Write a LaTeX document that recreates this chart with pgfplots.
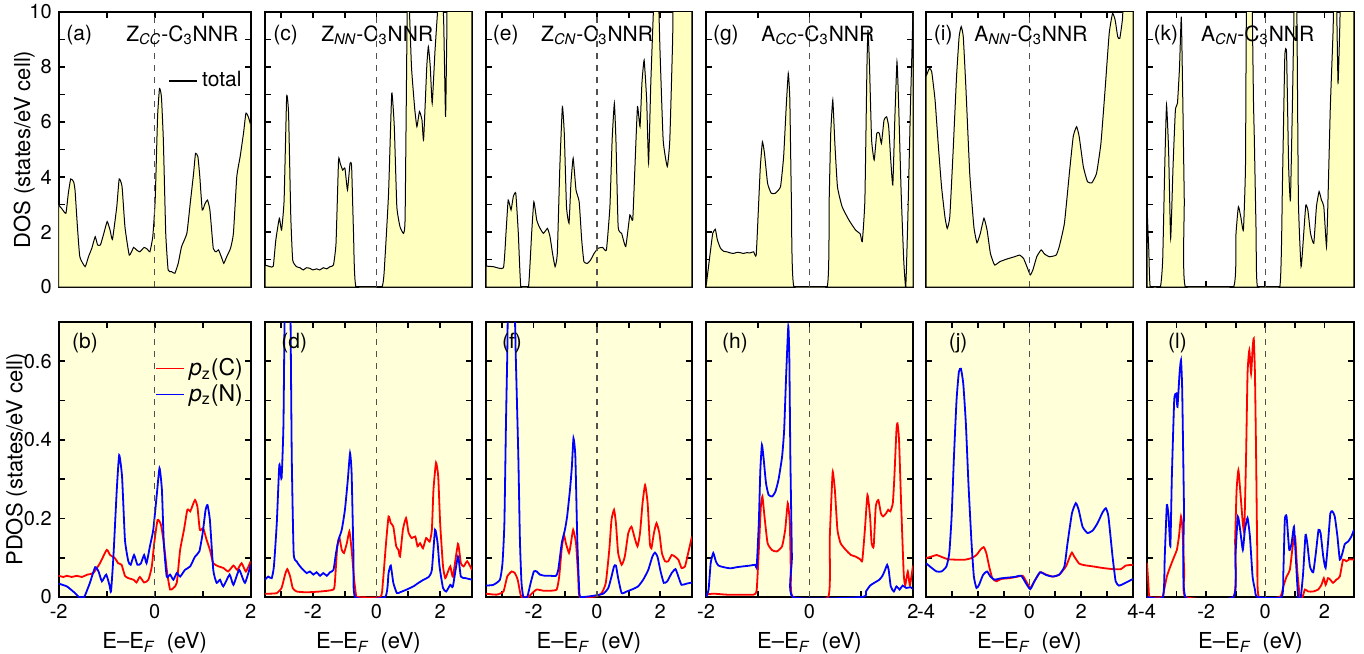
\documentclass[border=0pt]{standalone}
\usepackage{pgfplots}
\pgfplotsset{compat=1.18}
\usepackage{fontspec}
\setmainfont{TeX Gyre Heros}
\definecolor{dosfill}{RGB}{255,255,192}
\definecolor{pdosbg}{RGB}{255,255,218}
\definecolor{zline}{RGB}{80,80,80}
\pgfplotsset{
  panel/.style={scale only axis, anchor=north west, height=137.5pt,
    axis line style={line width=0.9pt},
    every tick/.style={black, line width=0.9pt},
    major tick length=3pt, minor tick length=3pt, tick align=inside,
    xtick={-4,-2,...,4}, minor xtick={-5,-3,...,5},
    /pgf/number format/assume math mode=true,
    tick label style={font=\fontsize{10}{11}\selectfont},
    label style={font=\fontsize{11}{13}\selectfont},
  },
  toprow/.style={panel, ymin=0, ymax=10, ytick={0,2,...,10}, minor ytick={1,3,...,9}, xticklabel=\empty},
  botrow/.style={panel, ymin=0, ymax=0.7, ytick={0,0.2,0.4,0.6}, minor ytick={0.1,0.3,0.5,0.7},
    axis background/.style={fill=pdosbg},
    xlabel={E--E\textsubscript{\itshape F}\ \ (eV)}},
  noy/.style={yticklabel=\empty},
  dos/.style={draw=black, line width=0.5pt, fill=dosfill, smooth, tension=0.25},
  pc/.style={red, line width=0.9pt, smooth, tension=0.3},
  pn/.style={blue, line width=0.9pt, smooth, tension=0.3},
  zl/.style={zline, dashed, line width=0.6pt, forget plot},
}
\tikzset{lab/.style={font=\fontsize{10.5}{12}\selectfont, anchor=west, inner sep=0pt}}
\newcommand{\tit}[2]{#1\textsubscript{\itshape #2}-C\textsubscript{3}NNR}
\begin{document}
\begin{tikzpicture}
\useasboundingbox (0pt,0pt) rectangle (682pt,-326.5pt);
% ---------------- (a)
\begin{axis}[toprow, at={(29.35pt,-6pt)}, width=96pt, xmin=-2, xmax=2,
  ylabel={DOS (states/eV cell)}, ylabel style={at={(axis description cs:-0.18,0.5)}, anchor=center},
  legend image code/.code={\draw[#1] (0pt,0pt) -- (14pt,0pt);},
  legend style={at={(axis description cs:0.538,0.75)}, anchor=west, draw=none, fill=none, font=\fontsize{10.5}{12}\selectfont}]
\addplot[dos, forget plot] coordinates {(-2,2.98)(-1.94,2.86)(-1.85,2.68)(-1.80,3.4)(-1.75,3.93)(-1.69,3.83)(-1.66,3.53)(-1.61,2.19)(-1.56,1.10)(-1.45,0.74)(-1.38,1.10)(-1.31,1.41)(-1.24,1.83)(-1.19,1.53)(-1.13,1.53)(-1.06,1.95)(-0.99,2.38)(-0.93,2.07)(-0.88,1.73)(-0.79,2.92)(-0.74,3.93)(-0.68,3.65)(-0.62,2.19)(-0.53,1.16)(-0.44,1.44)(-0.38,1.35)(-0.31,1.28)(-0.22,1.44)(-0.15,1.37)(-0.10,1.28)(-0.04,1.83)(0.01,3.16)(0.06,6.19)(0.10,7.22)(0.14,6.92)(0.18,5.35)(0.23,1.95)(0.28,0.62)(0.35,0.56)(0.42,0.50)(0.49,0.86)(0.56,1.47)(0.67,1.95)(0.74,3.04)(0.81,4.13)(0.85,4.86)(0.90,4.74)(0.94,4.01)(0.99,2.80)(1.05,3.04)(1.10,3.16)(1.15,2.80)(1.22,1.41)(1.28,1.28)(1.33,1.35)(1.40,1.04)(1.44,0.86)(1.50,1.10)(1.58,1.41)(1.64,1.95)(1.71,4.01)(1.78,4.74)(1.85,5.59)(1.90,6.32)(1.95,6.19)(2.0,5.89)} \closedcycle;
\addlegendimage{black, line width=0.9pt}
\addlegendentry{total}
\addplot[zl] coordinates {(0,0)(0,10)};
\node[lab] at (axis description cs:0.038,0.916) {(a)};
\node[lab] at (axis description cs:0.35,0.916) {\tit{Z}{CC}};
\end{axis}
% ---------------- (c)
\begin{axis}[toprow, noy, at={(132.5pt,-6pt)}, width=103.5pt, xmin=-3.5, xmax=3]
\addplot[dos] coordinates {(-3.5,0.80)(-3.34,0.74)(-3.24,0.76)(-3.16,1.71)(-3.05,2.50)(-2.98,2.07)(-2.90,3.16)(-2.82,6.92)(-2.76,6.32)(-2.69,2.56)(-2.63,0.98)(-2.51,0.74)(-2.40,0.70)(-2.30,0.62)(-2.20,0.70)(-2.09,0.68)(-2.0,0.62)(-1.88,0.66)(-1.78,0.62)(-1.67,0.70)(-1.56,0.66)(-1.46,0.74)(-1.35,0.80)(-1.27,1.59)(-1.19,4.62)(-1.14,4.50)(-1.06,4.25)(-0.99,4.32)(-0.91,3.53)(-0.83,4.50)(-0.78,4.38)(-0.72,1.95)(-0.64,0)(0.17,0)(0.27,1.10)(0.38,3.41)(0.48,7.04)(0.56,5.83)(0.64,2.92)(0.74,2.19)(0.85,1.95)(0.90,2.56)(0.97,10.5)(1.02,10.5)(1.10,8.0)(1.20,6.5)(1.27,5.83)(1.35,6.38)(1.43,6.07)(1.48,5.35)(1.58,8.01)(1.63,8.74)(1.69,8.01)(1.75,6.68)(1.84,8.62)(1.95,10.5)(2.05,11)(2.11,9.7)(2.17,6.19)(2.21,9.2)(2.26,11)(3.0,11)} \closedcycle;
\addplot[zl] coordinates {(0,0)(0,10)};
\node[lab] at (axis description cs:0.039,0.916) {(c)};
\node[lab] at (axis description cs:0.27,0.916) {\tit{Z}{NN}};
\end{axis}
% ---------------- (e)
\begin{axis}[toprow, noy, at={(243pt,-6pt)}, width=103pt, xmin=-3.5, xmax=3]
\addplot[dos] coordinates {(-3.5,0.76)(-3.27,0.74)(-2.95,0.70)(-2.87,1.95)(-2.80,3.16)(-2.71,2.80)(-2.64,3.28)(-2.56,3.41)(-2.48,1.95)(-2.40,0)(-2.16,0)(-2.06,1.95)(-1.99,3.10)(-1.90,2.44)(-1.82,2.19)(-1.69,1.95)(-1.56,2.13)(-1.48,1.83)(-1.40,1.22)(-1.32,0.74)(-1.25,1.22)(-1.17,4.38)(-1.09,6.56)(-1.03,5.59)(-0.96,2.92)(-0.88,2.32)(-0.82,3.77)(-0.75,4.68)(-0.66,3.53)(-0.56,3.10)(-0.48,1.71)(-0.41,0.92)(-0.30,0.86)(-0.20,0.98)(-0.09,1.22)(0.04,1.41)(0.18,1.44)(0.30,1.35)(0.41,2.92)(0.48,5.35)(0.55,6.68)(0.60,5.35)(0.67,2.19)(0.78,1.95)(0.91,1.47)(1.04,2.62)(1.13,2.44)(1.20,4.38)(1.28,6.56)(1.36,5.83)(1.42,7.41)(1.49,8.25)(1.57,6.80)(1.63,4.50)(1.70,7.41)(1.78,9.95)(1.83,11)(1.93,11)(1.99,8.62)(2.09,5.35)(2.22,4.38)(2.30,5.35)(2.39,9.0)(2.43,11)(3.0,11)} \closedcycle;
\addplot[zl] coordinates {(0,0)(0,10)};
\node[lab] at (axis description cs:0.032,0.916) {(e)};
\node[lab] at (axis description cs:0.266,0.916) {\tit{Z}{CN}};
\end{axis}
% ---------------- (g)
\begin{axis}[toprow, noy, at={(353pt,-6pt)}, width=103.5pt, xmin=-2, xmax=2]
\addplot[dos] coordinates {(-2,0)(-1.92,1.22)(-1.87,1.95)(-1.82,2.10)(-1.78,1.71)(-1.72,1.41)(-1.66,1.30)(-1.60,1.28)(-1.53,1.24)(-1.47,1.22)(-1.40,1.26)(-1.34,1.25)(-1.28,1.22)(-1.21,1.25)(-1.15,1.24)(-1.08,1.28)(-1.03,1.16)(-0.98,3.16)(-0.95,4.38)(-0.91,5.28)(-0.87,4.86)(-0.81,3.77)(-0.74,3.41)(-0.66,3.41)(-0.56,3.65)(-0.50,4.74)(-0.45,6.56)(-0.41,7.77)(-0.38,6.80)(-0.35,3.16)(-0.30,0)(0.34,0)(0.38,3.16)(0.41,5.59)(0.45,6.80)(0.49,5.22)(0.54,3.65)(0.63,2.92)(0.76,2.44)(0.89,2.07)(0.98,1.93)(1.02,1.65)(1.07,3.16)(1.11,8.01)(1.13,9.35)(1.16,8.01)(1.20,5.35)(1.25,4.62)(1.30,5.59)(1.35,5.59)(1.39,5.22)(1.44,6.07)(1.49,6.19)(1.53,5.83)(1.57,4.62)(1.61,3.71)(1.65,6.19)(1.69,8.19)(1.72,6.80)(1.77,3.5)(1.82,1.0)(1.86,0)(1.90,2.5)(1.95,6.5)(2.0,10)} \closedcycle;
\addplot[zl] coordinates {(0,0)(0,10)};
\node[lab] at (axis description cs:0.032,0.916) {(g)};
\node[lab] at (axis description cs:0.265,0.916) {\tit{A}{CC}};
\end{axis}
% ---------------- (i)
\begin{axis}[toprow, noy, at={(463pt,-6pt)}, width=103.5pt, xmin=-4, xmax=4]
\addplot[dos] coordinates {(-4,7.65)(-3.87,7.95)(-3.78,7.83)(-3.65,6.80)(-3.53,5.22)(-3.40,3.65)(-3.27,2.56)(-3.18,2.13)(-3.08,2.56)(-2.95,4.98)(-2.82,7.65)(-2.72,9.10)(-2.64,9.47)(-2.56,9.10)(-2.46,7.28)(-2.31,4.13)(-2.15,2.19)(-2.03,1.61)(-1.90,1.95)(-1.76,2.50)(-1.64,2.07)(-1.51,1.22)(-1.35,0.80)(-1.15,0.92)(-0.90,1.01)(-0.58,1.10)(-0.38,1.16)(-0.23,1.04)(-0.10,0.74)(0.03,0.44)(0.13,0.62)(0.28,1.10)(0.45,1.35)(0.58,1.20)(0.77,1.10)(1.03,1.16)(1.15,1.47)(1.35,2.32)(1.54,4.13)(1.69,5.47)(1.82,5.83)(1.92,5.47)(2.08,4.38)(2.24,3.83)(2.41,3.79)(2.59,4.13)(2.76,5.22)(2.92,7.16)(3.08,9.22)(3.21,9.95)(3.31,9.71)(3.41,9.10)(3.49,9.04)(3.59,9.71)(3.65,10.5)(4.0,11)} \closedcycle;
\addplot[zl] coordinates {(0,0)(0,10)};
\node[lab] at (axis description cs:0.036,0.916) {(i)};
\node[lab] at (axis description cs:0.232,0.916) {\tit{A}{NN}};
\end{axis}
% ---------------- (k)
\begin{axis}[toprow, noy, at={(573.5pt,-6pt)}, width=103.5pt, xmin=-4, xmax=3]
\addplot[dos] coordinates {(-4,2.92)(-3.94,1.35)(-3.89,0)(-3.55,0)(-3.47,0.98)(-3.40,4.38)(-3.34,6.62)(-3.27,4.98)(-3.20,1.77)(-3.12,4.38)(-3.04,6.44)(-2.97,6.68)(-2.90,8.01)(-2.84,9.83)(-2.79,6.80)(-2.74,3.16)(-2.70,0)(-1.08,0)(-0.99,1.95)(-0.91,2.92)(-0.83,2.56)(-0.74,2.07)(-0.67,4.38)(-0.63,11)(-0.46,11)(-0.40,6.80)(-0.37,5.35)(-0.31,1.95)(-0.26,0)(0.49,0)(0.58,3.77)(0.66,8.38)(0.72,8.50)(0.79,4.38)(0.85,3.16)(0.92,6.80)(0.99,11)(1.06,11)(1.12,3.16)(1.21,0.74)(1.30,1.95)(1.37,2.98)(1.44,2.80)(1.53,1.95)(1.64,1.59)(1.73,2.92)(1.82,3.47)(1.90,3.16)(1.98,2.92)(2.07,1.47)(2.12,3.16)(2.20,6.56)(2.29,9.22)(2.33,11)(2.40,11)(2.46,7.41)(2.52,9.47)(2.57,11)(3.0,11)} \closedcycle;
\addplot[zl] coordinates {(0,0)(0,10)};
\node[lab] at (axis description cs:0.03,0.916) {(k)};
\node[lab] at (axis description cs:0.26,0.916) {\tit{A}{CN}};
\end{axis}
% ================= bottom row
% ---------------- (b)
\begin{axis}[botrow, at={(29.35pt,-161pt)}, width=96pt, xmin=-2, xmax=2,
  ylabel={PDOS (states/eV cell)}, ylabel style={at={(axis description cs:-0.22,0.5)}, anchor=center},
  legend image code/.code={\draw[#1] (0pt,0pt) -- (14pt,0pt);},
  legend cell align=left,
  legend style={at={(axis description cs:0.47,0.784)}, anchor=west, draw=none, fill=none, font=\fontsize{11.5}{13}\selectfont, row sep=-1pt}]
\addplot[pc, forget plot] coordinates {(-2,0.054)(-1.90,0.051)(-1.83,0.054)(-1.73,0.051)(-1.62,0.054)(-1.52,0.051)(-1.40,0.057)(-1.28,0.061)(-1.14,0.086)(-1.0,0.120)(-0.93,0.107)(-0.83,0.099)(-0.76,0.086)(-0.69,0.082)(-0.62,0.054)(-0.55,0.048)(-0.44,0.044)(-0.38,0.037)(-0.31,0.051)(-0.22,0.037)(-0.13,0.044)(-0.06,0.078)(-0.01,0.137)(0.06,0.196)(0.13,0.184)(0.19,0.137)(0.26,0.061)(0.32,0.019)(0.39,0.023)(0.46,0.036)(0.53,0.120)(0.61,0.171)(0.68,0.222)(0.74,0.218)(0.78,0.230)(0.84,0.247)(0.89,0.230)(0.94,0.171)(1.01,0.175)(1.08,0.146)(1.15,0.120)(1.22,0.086)(1.33,0.078)(1.43,0.074)(1.53,0.065)(1.64,0.080)(1.72,0.069)(1.81,0.086)(1.90,0.065)(2.0,0.091)};
\addplot[pn, forget plot] coordinates {(-2,0.034)(-1.83,0.027)(-1.66,0.010)(-1.58,0)(-1.47,0)(-1.40,0.02)(-1.35,0.036)(-1.24,0.076)(-1.17,0.065)(-1.10,0.040)(-1.01,0.057)(-0.94,0.029)(-0.91,0.014)(-0.86,0.103)(-0.79,0.273)(-0.74,0.361)(-0.68,0.306)(-0.62,0.146)(-0.55,0.091)(-0.50,0.082)(-0.43,0.107)(-0.36,0.082)(-0.29,0.085)(-0.22,0.107)(-0.17,0.086)(-0.10,0.129)(-0.03,0.171)(0.04,0.256)(0.10,0.328)(0.15,0.273)(0.19,0.137)(0.25,0.052)(0.32,0.057)(0.39,0.044)(0.46,0.061)(0.53,0.052)(0.63,0.069)(0.74,0.078)(0.84,0.103)(0.93,0.116)(1.0,0.163)(1.06,0.222)(1.10,0.234)(1.15,0.196)(1.22,0.069)(1.29,0.036)(1.36,0.044)(1.43,0.027)(1.56,0.057)(1.64,0.031)(1.76,0.069)(1.88,0.036)(2.0,0.082)};
\addlegendimage{red, line width=0.9pt}
\addlegendentry{\textit{p}\textsubscript{z}(C)}
\addlegendimage{blue, line width=0.9pt}
\addlegendentry{\textit{p}\textsubscript{z}(N)}
\addplot[zl] coordinates {(0,0)(0,0.7)};
\node[lab] at (axis description cs:0.068,0.924) {(b)};
\end{axis}
% ---------------- (d)
\begin{axis}[botrow, noy, at={(132.5pt,-161pt)}, width=103.5pt, xmin=-3.5, xmax=3]
\addplot[pc] coordinates {(-3.5,0.0085)(-3.34,0.0085)(-3.13,0.010)(-2.98,0.023)(-2.87,0.057)(-2.80,0.071)(-2.71,0.052)(-2.63,0.023)(-2.51,0.014)(-2.19,0.012)(-1.77,0.014)(-1.35,0.019)(-1.30,0.044)(-1.23,0.129)(-1.16,0.150)(-1.09,0.120)(-1.02,0.112)(-0.93,0.137)(-0.85,0.167)(-0.78,0.120)(-0.70,0.044)(-0.64,0.003)(-0.62,0)(0.12,0)(0.20,0.036)(0.30,0.137)(0.38,0.205)(0.45,0.188)(0.53,0.179)(0.62,0.129)(0.69,0.120)(0.74,0.103)(0.83,0.171)(0.93,0.201)(1.01,0.163)(1.11,0.150)(1.22,0.154)(1.29,0.129)(1.37,0.137)(1.46,0.124)(1.56,0.150)(1.67,0.141)(1.74,0.171)(1.79,0.273)(1.87,0.342)(1.94,0.306)(2.0,0.188)(2.09,0.078)(2.16,0.048)(2.23,0.061)(2.32,0.078)(2.40,0.052)(2.56,0.135)(2.65,0.086)(2.74,0.078)(2.85,0.091)(3.0,0.069)};
\addplot[pn] coordinates {(-3.5,0.044)(-3.40,0.052)(-3.29,0.048)(-3.22,0.078)(-3.13,0.188)(-3.05,0.336)(-2.98,0.302)(-2.92,0.442)(-2.87,0.8)(-2.77,0.8)(-2.71,0.8)(-2.66,0.357)(-2.60,0.112)(-2.51,0.091)(-2.40,0.078)(-2.30,0.069)(-2.19,0.061)(-2.09,0.065)(-1.98,0.057)(-1.88,0.063)(-1.77,0.054)(-1.67,0.061)(-1.56,0.054)(-1.46,0.063)(-1.35,0.069)(-1.27,0.112)(-1.19,0.146)(-1.09,0.171)(-0.99,0.222)(-0.90,0.298)(-0.83,0.366)(-0.78,0.315)(-0.72,0.103)(-0.67,0)(0.27,0)(0.38,0.061)(0.45,0.080)(0.53,0.036)(0.64,0.010)(0.74,0.012)(0.95,0.019)(1.16,0.027)(1.32,0.036)(1.48,0.044)(1.64,0.051)(1.74,0.069)(1.84,0.171)(1.92,0.137)(1.98,0.078)(2.09,0.023)(2.19,0.014)(2.32,0.031)(2.40,0.027)(2.56,0.103)(2.65,0.052)(2.80,0.048)(3.0,0.044)};
\addplot[zl] coordinates {(0,0)(0,0.7)};
\node[lab] at (axis description cs:0.077,0.924) {(d)};
\end{axis}
% ---------------- (f)
\begin{axis}[botrow, noy, at={(243pt,-161pt)}, width=103pt, xmin=-3.5, xmax=3]
\addplot[pc] coordinates {(-3.5,0.0085)(-3.17,0.006)(-2.95,0.014)(-2.83,0.052)(-2.69,0.065)(-2.59,0.061)(-2.50,0.044)(-2.43,0.014)(-2.38,0)(-2.17,0)(-2.06,0.0085)(-1.90,0.019)(-1.69,0.016)(-1.48,0.016)(-1.27,0.019)(-1.19,0.052)(-1.11,0.124)(-1.04,0.158)(-0.98,0.137)(-0.88,0.112)(-0.82,0.137)(-0.75,0.171)(-0.66,0.137)(-0.59,0.052)(-0.54,0)(-0.01,0.002)(0.15,0.010)(0.28,0.036)(0.39,0.120)(0.46,0.196)(0.54,0.222)(0.60,0.188)(0.67,0.112)(0.78,0.082)(0.88,0.103)(0.99,0.163)(1.09,0.179)(1.18,0.154)(1.28,0.129)(1.36,0.163)(1.44,0.239)(1.52,0.285)(1.60,0.239)(1.67,0.137)(1.72,0.124)(1.80,0.163)(1.88,0.188)(1.97,0.163)(2.05,0.112)(2.15,0.091)(2.25,0.091)(2.36,0.107)(2.46,0.103)(2.57,0.095)(2.67,0.074)(2.78,0.078)(2.88,0.112)(3.0,0.154)};
\addplot[pn] coordinates {(-3.5,0.029)(-3.27,0.031)(-3.06,0.044)(-2.98,0.086)(-2.92,0.188)(-2.87,0.442)(-2.83,0.611)(-2.79,0.8)(-2.62,0.8)(-2.56,0.611)(-2.48,0.357)(-2.43,0.146)(-2.38,0.036)(-2.32,0)(-2.20,0)(-2.09,0.036)(-1.99,0.065)(-1.90,0.065)(-1.80,0.057)(-1.64,0.054)(-1.48,0.054)(-1.29,0.054)(-1.22,0.069)(-1.11,0.137)(-1.01,0.171)(-0.94,0.205)(-0.85,0.273)(-0.79,0.332)(-0.74,0.404)(-0.68,0.357)(-0.62,0.146)(-0.56,0.019)(-0.52,0)(-0.12,0.003)(0.20,0.0085)(0.36,0.023)(0.46,0.052)(0.54,0.078)(0.60,0.080)(0.67,0.048)(0.78,0.010)(0.94,0.014)(1.13,0.020)(1.30,0.027)(1.46,0.044)(1.62,0.069)(1.75,0.103)(1.83,0.113)(1.91,0.103)(2.01,0.065)(2.11,0.036)(2.22,0.040)(2.36,0.061)(2.48,0.071)(2.57,0.052)(2.67,0.031)(2.83,0.034)(3.0,0.037)};
\addplot[zl] coordinates {(0,0)(0,0.7)};
\node[lab] at (axis description cs:0.076,0.924) {(f)};
\end{axis}
% ---------------- (h)
\begin{axis}[botrow, noy, at={(353pt,-161pt)}, width=103.5pt, xmin=-2, xmax=2]
\addplot[pc] coordinates {(-2,0.006)(-1.86,0.0085)(-1.60,0.006)(-1.34,0.006)(-1.08,0.006)(-1.02,0.019)(-0.97,0.146)(-0.94,0.230)(-0.91,0.256)(-0.87,0.205)(-0.81,0.137)(-0.72,0.119)(-0.63,0.116)(-0.53,0.129)(-0.47,0.171)(-0.42,0.239)(-0.38,0.188)(-0.36,0.061)(-0.32,0)(0.36,0)(0.39,0.146)(0.43,0.273)(0.45,0.319)(0.49,0.273)(0.54,0.171)(0.60,0.137)(0.70,0.120)(0.80,0.107)(0.89,0.103)(0.98,0.096)(1.02,0.093)(1.07,0.171)(1.12,0.260)(1.17,0.205)(1.20,0.137)(1.24,0.129)(1.28,0.230)(1.33,0.247)(1.38,0.213)(1.42,0.205)(1.48,0.213)(1.52,0.222)(1.56,0.218)(1.61,0.239)(1.64,0.306)(1.68,0.425)(1.70,0.442)(1.73,0.400)(1.77,0.24)(1.82,0.06)(1.85,0.03)(1.90,0.065)(1.94,0.03)(2.0,0.08)};
\addplot[pn] coordinates {(-2,0)(-1.95,0.019)(-1.91,0.086)(-1.86,0.112)(-1.81,0.091)(-1.76,0.080)(-1.66,0.076)(-1.53,0.073)(-1.40,0.076)(-1.28,0.078)(-1.15,0.080)(-1.05,0.082)(-1.02,0.078)(-0.98,0.188)(-0.95,0.323)(-0.92,0.387)(-0.89,0.357)(-0.84,0.289)(-0.79,0.260)(-0.72,0.256)(-0.66,0.268)(-0.60,0.298)(-0.53,0.357)(-0.49,0.425)(-0.45,0.569)(-0.41,0.689)(-0.39,0.611)(-0.37,0.357)(-0.34,0.103)(-0.32,0)(1.02,0)(1.09,0.014)(1.17,0.029)(1.25,0.036)(1.35,0.044)(1.41,0.054)(1.46,0.069)(1.50,0.082)(1.53,0.069)(1.57,0.027)(1.63,0.014)(1.68,0.027)(1.74,0.019)(1.80,0.029)(1.87,0.023)(1.95,0.025)(2.0,0.02)};
\addplot[zl] coordinates {(0,0)(0,0.7)};
\node[lab] at (axis description cs:0.076,0.924) {(h)};
\end{axis}
% ---------------- (j)
\begin{axis}[botrow, noy, at={(463pt,-161pt)}, width=103.5pt, xmin=-4, xmax=4]
\addplot[pc] coordinates {(-4,0.099)(-3.78,0.103)(-3.59,0.107)(-3.40,0.102)(-3.14,0.096)(-2.82,0.095)(-2.50,0.095)(-2.24,0.099)(-2.05,0.107)(-1.90,0.120)(-1.77,0.127)(-1.67,0.112)(-1.56,0.078)(-1.44,0.048)(-1.28,0.040)(-1.09,0.046)(-0.77,0.048)(-0.45,0.052)(-0.26,0.054)(-0.13,0.040)(0.03,0.023)(0.19,0.040)(0.41,0.063)(0.64,0.057)(0.90,0.052)(1.15,0.057)(1.41,0.078)(1.56,0.103)(1.64,0.113)(1.73,0.103)(1.92,0.085)(2.12,0.081)(2.44,0.078)(2.82,0.074)(3.21,0.071)(3.53,0.071)(3.72,0.080)(4.0,0.082)};
\addplot[pn] coordinates {(-4,0.086)(-3.78,0.074)(-3.59,0.065)(-3.40,0.065)(-3.21,0.078)(-3.10,0.112)(-3.01,0.205)(-2.92,0.357)(-2.82,0.501)(-2.73,0.573)(-2.65,0.581)(-2.56,0.543)(-2.46,0.442)(-2.36,0.289)(-2.24,0.137)(-2.15,0.052)(-2.05,0.023)(-1.95,0.031)(-1.79,0.057)(-1.64,0.065)(-1.51,0.052)(-1.35,0.044)(-1.15,0.047)(-0.90,0.049)(-0.58,0.051)(-0.32,0.054)(-0.13,0.034)(0.03,0.020)(0.19,0.040)(0.41,0.063)(0.64,0.056)(0.90,0.052)(1.15,0.057)(1.35,0.078)(1.47,0.137)(1.64,0.213)(1.79,0.239)(1.90,0.222)(2.05,0.179)(2.24,0.163)(2.44,0.169)(2.63,0.188)(2.82,0.215)(2.95,0.226)(3.05,0.205)(3.21,0.103)(3.33,0.040)(3.46,0.029)(3.65,0.034)(4.0,0.046)};
\addplot[zl] coordinates {(0,0)(0,0.7)};
\node[lab] at (axis description cs:0.108,0.924) {(j)};
\end{axis}
% ---------------- (l)
\begin{axis}[botrow, noy, at={(573.5pt,-161pt)}, width=103.5pt, xmin=-4, xmax=3]
\addplot[pc] coordinates {(-4,0.086)(-3.95,0.03)(-3.91,0)(-3.49,0)(-3.42,0.019)(-3.33,0.052)(-3.21,0.078)(-3.08,0.103)(-2.99,0.120)(-2.92,0.154)(-2.85,0.205)(-2.80,0.171)(-2.74,0.061)(-2.69,0)(-1.08,0)(-1.02,0.146)(-0.97,0.273)(-0.91,0.323)(-0.85,0.273)(-0.76,0.188)(-0.71,0.171)(-0.65,0.357)(-0.60,0.569)(-0.54,0.628)(-0.48,0.569)(-0.43,0.632)(-0.39,0.658)(-0.35,0.569)(-0.31,0.357)(-0.27,0.103)(-0.22,0)(0.49,0)(0.61,0.027)(0.72,0.052)(0.83,0.069)(0.94,0.137)(1.01,0.154)(1.08,0.069)(1.17,0)(1.26,0)(1.34,0.019)(1.45,0.014)(1.62,0.014)(1.79,0.019)(1.90,0.031)(1.98,0.048)(2.04,0.031)(2.12,0.048)(2.20,0.044)(2.29,0.036)(2.40,0.044)(2.52,0.052)(2.63,0.095)(2.74,0.091)(2.85,0.096)(3.0,0.095)};
\addplot[pn] coordinates {(-4,0)(-3.46,0)(-3.40,0.103)(-3.33,0.234)(-3.27,0.205)(-3.21,0.129)(-3.16,0.306)(-3.08,0.501)(-3.01,0.518)(-2.97,0.484)(-2.90,0.569)(-2.85,0.603)(-2.81,0.527)(-2.75,0.230)(-2.70,0)(-1.08,0)(-1.01,0.103)(-0.93,0.205)(-0.85,0.171)(-0.76,0.120)(-0.69,0.171)(-0.60,0.201)(-0.52,0.154)(-0.43,0.052)(-0.35,0.019)(-0.27,0)(0.55,0)(0.61,0.061)(0.66,0.196)(0.72,0.205)(0.81,0.120)(0.89,0.137)(0.97,0.179)(1.03,0.103)(1.11,0)(1.20,0)(1.28,0.061)(1.36,0.158)(1.42,0.137)(1.51,0.078)(1.62,0.063)(1.71,0.112)(1.80,0.171)(1.87,0.163)(1.96,0.103)(2.04,0.074)(2.12,0.137)(2.20,0.213)(2.27,0.218)(2.35,0.205)(2.44,0.154)(2.52,0.095)(2.61,0.112)(2.69,0.135)(2.80,0.141)(2.91,0.154)(3.0,0.171)};
\addplot[zl] coordinates {(0,0)(0,0.7)};
\node[lab] at (axis description cs:0.10,0.924) {(l)};
\end{axis}
\end{tikzpicture}
\end{document}
